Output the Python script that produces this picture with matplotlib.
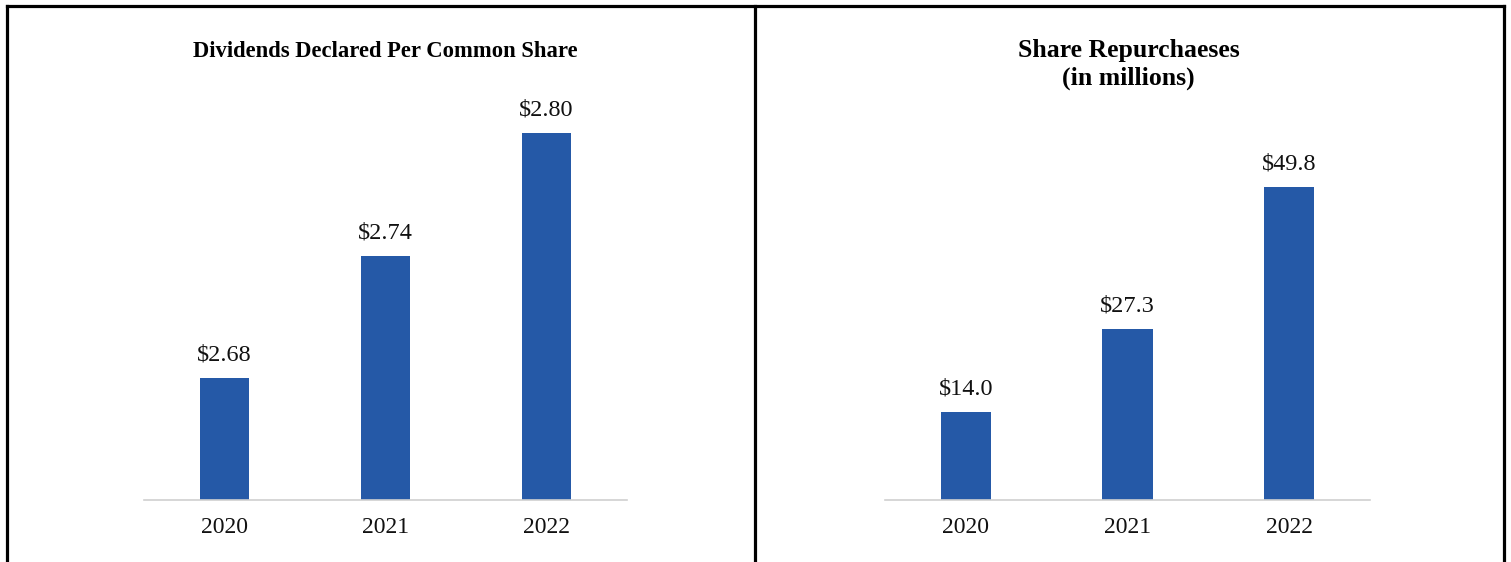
import numpy as np
import matplotlib.pyplot as plt
from matplotlib.lines import Line2D

plt.rcParams['font.family'] = ['Liberation Serif', 'DejaVu Serif']

# -----------------------------
# Data
# -----------------------------
years = ["2020", "2021", "2022"]
dividends = [2.68, 2.74, 2.80]
repurchases = [14.0, 27.3, 49.8]
div_labels = ["$2.68", "$2.74", "$2.80"]
rep_labels = ["$14.0", "$27.3", "$49.8"]

bar_color = "#2559A7"

fig = plt.figure(figsize=(15.11, 5.62), dpi=100)

ax1 = fig.add_axes([144 / 1511, 62 / 562, 483 / 1511, 400 / 562])
ax2 = fig.add_axes([885 / 1511, 62 / 562, 485 / 1511, 400 / 562])


def draw_panel(ax, values, labels, ylim):
    x = np.arange(len(years))
    ax.bar(x, values, width=0.31, color=bar_color)
    for xi, v, lab in zip(x, values, labels):
        ax.annotate(lab, (xi, v), xytext=(0, 9), textcoords="offset points",
                    ha="center", va="bottom", fontsize=17.5, color="#111111")
    ax.set_xlim(-0.5, 2.5)
    ax.set_ylim(*ylim)
    ax.set_xticks(x)
    ax.set_xticklabels(years, fontsize=17, color="#111111")
    ax.tick_params(axis="x", length=0, pad=12)
    ax.set_yticks([])
    for s in ["top", "right", "left"]:
        ax.spines[s].set_visible(False)
    ax.spines["bottom"].set_color("#D0D0D0")
    ax.spines["bottom"].set_linewidth(1.2)


draw_panel(ax1, dividends, div_labels, (2.6203, 2.6203 + 400 / 2042))
draw_panel(ax2, repurchases, rep_labels, (0, 400 / 6.28))

# Titles
fig.text(385.5 / 1511, 1 - 57 / 562, "Dividends Declared Per Common Share",
         ha="center", va="baseline", fontsize=16.3, fontweight="bold")
fig.text(1128.5 / 1511, 1 - 57 / 562, "Share Repurchaeses",
         ha="center", va="baseline", fontsize=18.5, fontweight="bold")
fig.text(1128.5 / 1511, 1 - 85 / 562, "(in millions)",
         ha="center", va="baseline", fontsize=18.5, fontweight="bold")

# table-like borders
lw = 2.3
for xs, ys in [([7, 1504], [6, 6]), ([7, 7], [6, 562]),
               ([754.5, 754.5], [6, 562]), ([1504, 1504], [6, 562])]:
    fig.add_artist(Line2D([v / 1511 for v in xs], [1 - v / 562 for v in ys],
                          transform=fig.transFigure, color="black", linewidth=lw))

plt.savefig("out.png", dpi=100)
